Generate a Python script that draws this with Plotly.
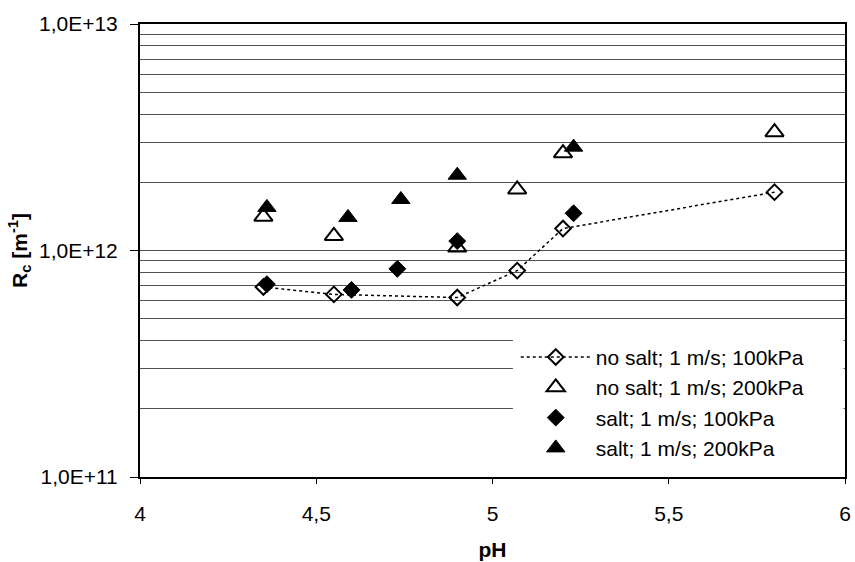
import plotly.graph_objects as go

# Cake resistance R_c versus pH for the four filtration runs
ph_nosalt_100 = [4.35, 4.55, 4.90, 5.07, 5.20, 5.80]
rc_nosalt_100 = [6.9e11, 6.4e11, 6.2e11, 8.15e11, 1.25e12, 1.81e12]

ph_nosalt_200 = [4.35, 4.55, 4.90, 5.07, 5.20, 5.80]
rc_nosalt_200 = [1.41e12, 1.16e12, 1.03e12, 1.86e12, 2.69e12, 3.33e12]

ph_salt_100 = [4.36, 4.60, 4.73, 4.90, 5.23]
rc_salt_100 = [7.1e11, 6.7e11, 8.3e11, 1.10e12, 1.46e12]

ph_salt_200 = [4.36, 4.59, 4.74, 4.90, 5.23]
rc_salt_200 = [1.55e12, 1.40e12, 1.68e12, 2.15e12, 2.86e12]

series_names = [
    "no salt; 1 m/s; 100kPa",
    "no salt; 1 m/s; 200kPa",
    "salt; 1 m/s; 100kPa",
    "salt; 1 m/s; 200kPa",
]

x_tickvals = [4, 4.5, 5, 5.5, 6]
x_ticktext = ["4", "4,5", "5", "5,5", "6"]
y_tickvals = [1e11, 1e12, 1e13]
y_ticktext = ["1,0E+11", "1,0E+12", "1,0E+13"]

FONT = "Arial, Liberation Sans, sans-serif"
GRID = "#505050"

fig = go.Figure()

fig.add_trace(go.Scatter(
    x=ph_nosalt_100, y=rc_nosalt_100, name=series_names[0],
    mode="lines+markers",
    line=dict(color="black", width=1.5, dash="dot"),
    marker=dict(symbol="diamond-open", size=12, color="black",
                line=dict(color="black", width=2)),
))
fig.add_trace(go.Scatter(
    x=ph_nosalt_200, y=rc_nosalt_200, name=series_names[1],
    mode="markers",
    marker=dict(symbol="triangle-up-open", size=16, color="black",
                line=dict(color="black", width=2)),
))
fig.add_trace(go.Scatter(
    x=ph_salt_100, y=rc_salt_100, name=series_names[2],
    mode="markers",
    marker=dict(symbol="diamond", size=13, color="black",
                line=dict(color="black", width=1)),
))
fig.add_trace(go.Scatter(
    x=ph_salt_200, y=rc_salt_200, name=series_names[3],
    mode="markers",
    marker=dict(symbol="triangle-up", size=16, color="black",
                line=dict(color="black", width=1)),
))

# White panel behind the legend, reaching the right border of the plot
fig.add_shape(
    type="rect", xref="paper", yref="paper",
    x0=0.529, x1=0.998, y0=0.003, y1=0.307,
    fillcolor="white", line=dict(width=0), layer="above",
)

fig.update_layout(
    width=855, height=562,
    margin=dict(l=140, r=10, t=24, b=85, autoexpand=False),
    paper_bgcolor="white", plot_bgcolor="white",
    font=dict(family=FONT, size=21, color="black"),
    showlegend=True,
    legend=dict(
        x=0.95, xanchor="right", y=0.018, yanchor="bottom",
        bgcolor="white", borderwidth=0,
        font=dict(family=FONT, size=21, color="black"),
        itemwidth=70,
    ),
    xaxis=dict(
        range=[4, 6],
        tickvals=x_tickvals, ticktext=x_ticktext,
        ticks="outside", ticklen=5, tickwidth=1, tickcolor="black",
        ticklabelstandoff=12,
        showline=True, linecolor="black", linewidth=2, mirror=True,
        showgrid=False, zeroline=False,
        title=dict(text="<b>pH</b>", font=dict(family=FONT, size=21), standoff=18),
        automargin=False,
    ),
    yaxis=dict(
        type="log", range=[11, 13],
        tickvals=y_tickvals, ticktext=y_ticktext,
        ticks="outside", ticklen=8, tickwidth=1, tickcolor="black",
        ticklabelstandoff=8,
        showline=True, linecolor="black", linewidth=2, mirror=True,
        showgrid=True, gridcolor=GRID, gridwidth=1,
        minor=dict(dtick="D1", showgrid=True, gridcolor=GRID, gridwidth=1,
                   ticks=""),
        zeroline=False,
        title=dict(text="<b>R<sub>c</sub> [m<sup>-1</sup>]</b>",
                   font=dict(family=FONT, size=21), standoff=6),
        automargin=False,
    ),
)

fig.write_html("out.html")
